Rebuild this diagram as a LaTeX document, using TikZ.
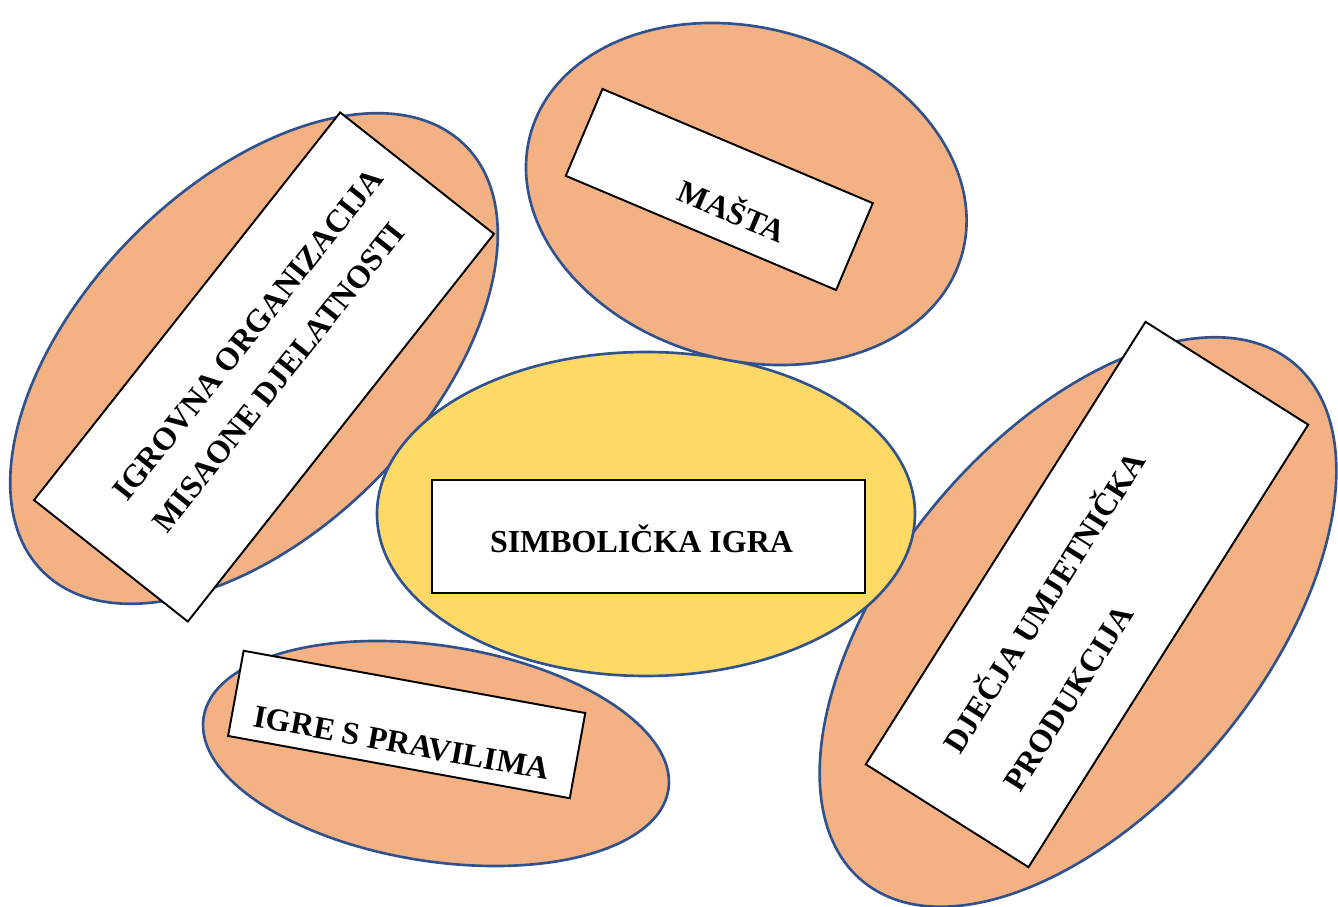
\documentclass[tikz,border=0pt]{standalone}
\usepackage{fontspec}
\setmainfont{Liberation Serif}
\definecolor{narancasta}{HTML}{F4B183}
\definecolor{zuta}{HTML}{FFD966}
\definecolor{rub}{HTML}{2F528F}

\begin{document}
\begin{tikzpicture}[
    oval/.style={draw=rub, fill=narancasta, line width=0.75pt},
    okvir/.style={draw=black, fill=white, line width=0.55pt, inner sep=0pt, outer sep=0pt},
    natpis/.style={inner sep=0pt, font=\fontsize{9.1}{11}\selectfont\bfseries}]
      \useasboundingbox (0,0) rectangle (13.38,-9.07);

      % ovali
      \draw[oval, shift={(2.54,-3.585)}, rotate=45.35] (0,0) ellipse (3.00 and 1.72);
      \draw[oval, shift={(10.78,-6.22)}, rotate=50.2] (0,0) ellipse (3.37 and 1.85);
      \draw[oval, shift={(4.36,-7.535)}, rotate=-8.85] (0,0) ellipse (2.352 and 1.078);
      \draw[oval, fill=zuta] (6.46,-5.14) ellipse (2.69 and 1.62);
      \draw[oval, shift={(7.463,-1.94)}, rotate=-15.7] (0,0) ellipse (2.24 and 1.661);

      % okviri
      \node[okvir, rotate=51.7, minimum width=4.94cm, minimum height=1.96cm] (igrovna) at (2.64,-3.67) {};
      \node[okvir, rotate=-22.9, minimum width=2.935cm, minimum height=0.943cm] (masta) at (7.193,-1.895) {};
      \node[okvir, minimum width=4.33cm, minimum height=1.13cm] (simbolicka) at (6.485,-5.365) {};
      \node[okvir, rotate=-10.33, minimum width=3.473cm, minimum height=0.866cm] (pravila) at (4.067,-7.245) {};
      \node[okvir, rotate=57.7, minimum width=5.235cm, minimum height=1.925cm] (produkcija) at (10.87,-5.945) {};

      % natpisi
      \node[natpis, rotate=51.5, align=left, font=\fontsize{9.1}{14.5}\selectfont\bfseries] (t1) at (2.68,-3.50)
        {IGROVNA ORGANIZACIJA\\MISAONE DJELATNOSTI};
      \node[natpis, rotate=-22.9] (t2) at (7.33,-2.09) {MAŠTA};
      \node[natpis, anchor=base] (t3) at (6.415,-5.53) {SIMBOLIČKA IGRA};
      \node[natpis, rotate=-10.33] (t4) at (4.02,-7.43) {IGRE S PRAVILIMA};
      \node[natpis, rotate=57.7, align=left, font=\fontsize{9.1}{20.3}\selectfont\bfseries] (t5) at (10.722,-6.20)
        {DJEČJA UMJETNIČKA\\PRODUKCIJA};

\end{tikzpicture}
\end{document}
